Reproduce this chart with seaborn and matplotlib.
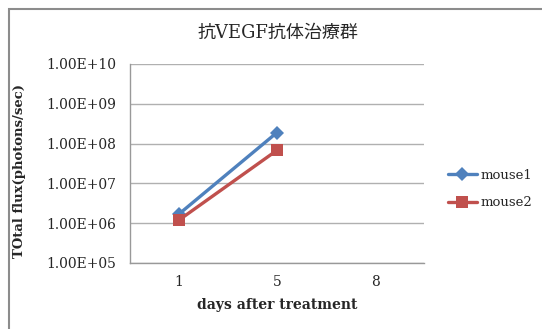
import matplotlib
matplotlib.use("Agg")
import matplotlib.pyplot as plt
from matplotlib.patches import Rectangle
import pandas as pd
import seaborn as sns

# data
days = ["1", "5", "8"]
mouse1 = [1.7e6, 1.9e8]      # days 1 and 5
mouse2 = [1.2e6, 6.8e7]
series = ["mouse1", "mouse2"]
y_ticks = [1e5, 1e6, 1e7, 1e8, 1e9, 1e10]
y_labels = ["1.00E+05", "1.00E+06", "1.00E+07", "1.00E+08", "1.00E+09", "1.00E+10"]

rows = []
for name, vals in zip(series, [mouse1, mouse2]):
    for i, v in enumerate(vals):
        rows.append({"pos": i, "day": days[i], "flux": v, "series": name})
df = pd.DataFrame(rows)

sns.set_style("white")
serif = ["DejaVu Serif", "Noto Sans CJK JP"]
plt.rcParams["font.family"] = serif

fig = plt.figure(figsize=(5.42, 3.29), dpi=100)
ax = fig.add_axes([130 / 542, 1 - 263 / 329, (424 - 130) / 542, (263 - 64) / 329])

palette = {"mouse1": "#4F81BD", "mouse2": "#C0504D"}
markers = {"mouse1": "D", "mouse2": "s"}
sizes = {"mouse1": 7, "mouse2": 8}
for name in series:
    sub = df[df.series == name]
    sns.lineplot(data=sub, x="pos", y="flux", ax=ax, color=palette[name],
                 marker=markers[name], markersize=sizes[name], markeredgewidth=0,
                 linewidth=2.4, label=name, legend=False)

ax.set_yscale("log")
ax.set_ylim(1e5, 1e10)
ax.set_xlim(-0.5, 2.5)
ax.set_yticks(y_ticks)
ax.set_yticklabels(y_labels)
ax.minorticks_off()
ax.set_xticks(range(len(days)))
ax.set_xticklabels(days)
ax.set_xticks([0.5, 1.5, 2.5], minor=True)
ax.tick_params(axis="x", which="major", length=0, pad=9, labelsize=10)
ax.tick_params(axis="x", which="minor", length=4, color="#999999", width=1)
ax.tick_params(axis="y", which="major", length=4, color="#999999", width=1, pad=6, labelsize=10)
ax.yaxis.grid(True, color="#b0b0b0", linewidth=1)
for s in ["top", "right"]:
    ax.spines[s].set_visible(False)
for s in ["left", "bottom"]:
    ax.spines[s].set_color("#999999")
    ax.spines[s].set_linewidth(1)

ax.set_xlabel("days after treatment", fontsize=10, fontweight="bold", labelpad=6)
ax.set_ylabel("TOtal flux(photons/sec)", fontsize=9.5, fontweight="bold")
ax.yaxis.set_label_coords(-0.355, 0.46)
fig.text(278 / 542, 1 - 33 / 329, "抗VEGF抗体治療群", ha="center", va="center",
         fontsize=13, family=serif)

handles, labels = ax.get_legend_handles_labels()
fig.legend(handles, labels, loc="center left", bbox_to_anchor=(436 / 542, 1 - 189 / 329),
           frameon=False, fontsize=9.5, handlelength=2.2, labelspacing=1.1,
           handletextpad=0.25)

fig.patches.append(Rectangle((9 / 542, -0.1), 1.2, 1 - 9 / 329 + 0.1, transform=fig.transFigure,
                             fill=False, edgecolor="#8c8c8c", linewidth=1.5))

fig.savefig("out.png", dpi=100)
